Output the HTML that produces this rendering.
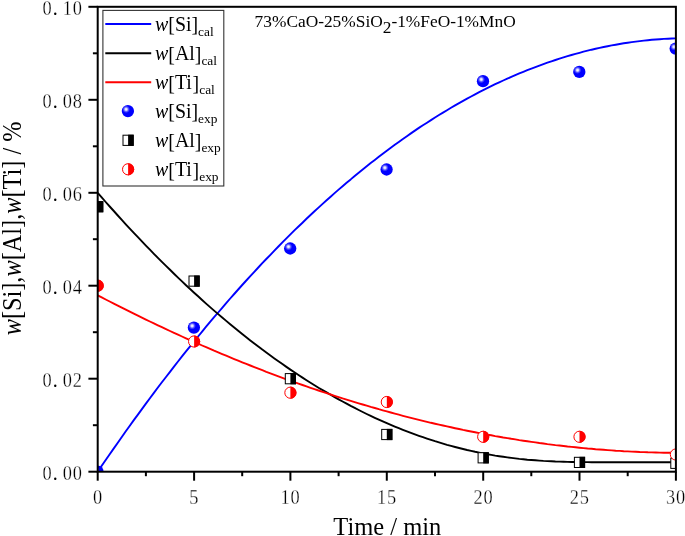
<!DOCTYPE html>
<html><head><meta charset="utf-8"><title>chart</title>
<style>
html,body{margin:0;padding:0;background:#fff;}
body{width:685px;height:536px;overflow:hidden;font-family:"Liberation Serif",serif;}
svg{display:block;will-change:transform;}
text{font-family:"Liberation Serif",serif;fill:#000;}
.tk{stroke:#fff;stroke-width:0.3px;}
</style></head><body>
<svg width="685" height="536" viewBox="0 0 685 536">
<defs>
<clipPath id="plot"><rect x="97.7" y="6.8" width="578.2" height="464.9"/></clipPath>
<radialGradient id="sph" cx="0.5" cy="0.5" r="0.5">
<stop offset="0" stop-color="#fff" stop-opacity="1"/><stop offset="0.28" stop-color="#fff" stop-opacity="0.85"/><stop offset="0.62" stop-color="#fff" stop-opacity="0.33"/><stop offset="1" stop-color="#fff" stop-opacity="0"/>
</radialGradient>
<g id="sq"><rect x="-5.1" y="-5.1" width="10.2" height="10.2" fill="#fff" stroke="#000" stroke-width="1"/><rect x="0" y="-5.6" width="5.6" height="11.2" fill="#000"/></g>
<g id="rc"><circle r="5.6" fill="#fff" stroke="#f00" stroke-width="1"/><path d="M0,-6.1 A6.1,6.1 0 0 1 0,6.1 Z" fill="#f00"/></g>
<g id="bs"><circle cx="-0.2" r="6.15" fill="#0000ff"/><circle cx="-1.95" cy="-1.78" r="3.8" fill="url(#sph)"/></g>
</defs>
<rect width="685" height="536" fill="#fff"/>

<g clip-path="url(#plot)" fill="none" stroke-width="1.9" stroke-linejoin="round">
<path d="M97.7,471.7 L101.7,465.8 L105.7,460.0 L109.7,454.2 L113.8,448.4 L117.8,442.7 L121.8,437.0 L125.8,431.3 L129.8,425.7 L133.8,420.1 L137.9,414.6 L141.9,409.1 L145.9,403.6 L149.9,398.2 L153.9,392.9 L157.9,387.5 L161.9,382.2 L166.0,377.0 L170.0,371.8 L174.0,366.6 L178.0,361.5 L182.0,356.4 L186.0,351.4 L190.1,346.4 L194.1,341.4 L198.1,336.5 L202.1,331.6 L206.1,326.7 L210.1,321.9 L214.1,317.2 L218.2,312.5 L222.2,307.8 L226.2,303.1 L230.2,298.5 L234.2,294.0 L238.2,289.5 L242.2,285.0 L246.3,280.5 L250.3,276.1 L254.3,271.8 L258.3,267.5 L262.3,263.2 L266.3,259.0 L270.4,254.8 L274.4,250.6 L278.4,246.5 L282.4,242.4 L286.4,238.4 L290.4,234.4 L294.4,230.4 L298.5,226.5 L302.5,222.7 L306.5,218.8 L310.5,215.0 L314.5,211.3 L318.5,207.6 L322.6,203.9 L326.6,200.3 L330.6,196.7 L334.6,193.1 L338.6,189.6 L342.6,186.2 L346.6,182.7 L350.7,179.4 L354.7,176.0 L358.7,172.7 L362.7,169.4 L366.7,166.2 L370.7,163.0 L374.8,159.9 L378.8,156.8 L382.8,153.7 L386.8,150.7 L390.8,147.7 L394.8,144.8 L398.8,141.9 L402.9,139.0 L406.9,136.2 L410.9,133.4 L414.9,130.6 L418.9,127.9 L422.9,125.3 L427.0,122.7 L431.0,120.1 L435.0,117.5 L439.0,115.0 L443.0,112.6 L447.0,110.2 L451.0,107.8 L455.1,105.4 L459.1,103.1 L463.1,100.9 L467.1,98.7 L471.1,96.5 L475.1,94.3 L479.2,92.2 L483.2,90.2 L487.2,88.2 L491.2,86.2 L495.2,84.2 L499.2,82.3 L503.2,80.5 L507.3,78.7 L511.3,76.9 L515.3,75.1 L519.3,73.4 L523.3,71.8 L527.3,70.2 L531.4,68.6 L535.4,67.1 L539.4,65.6 L543.4,64.1 L547.4,62.7 L551.4,61.3 L555.4,60.0 L559.5,58.7 L563.5,57.4 L567.5,56.2 L571.5,55.0 L575.5,53.9 L579.5,52.8 L583.5,51.7 L587.6,50.7 L591.6,49.7 L595.6,48.8 L599.6,47.9 L603.6,47.0 L607.6,46.2 L611.7,45.4 L615.7,44.7 L619.7,44.0 L623.7,43.3 L627.7,42.7 L631.7,42.1 L635.7,41.6 L639.8,41.1 L643.8,40.6 L647.8,40.2 L651.8,39.8 L655.8,39.5 L659.8,39.2 L663.9,38.9 L667.9,38.7 L671.9,38.5 L675.9,38.4" stroke="#0000ff"/>
<path d="M97.7,192.8 L101.7,197.4 L105.7,202.0 L109.7,206.5 L113.8,211.0 L117.8,215.5 L121.8,219.9 L125.8,224.3 L129.8,228.6 L133.8,232.9 L137.9,237.2 L141.9,241.4 L145.9,245.6 L149.9,249.7 L153.9,253.8 L157.9,257.9 L161.9,261.9 L166.0,265.9 L170.0,269.8 L174.0,273.7 L178.0,277.6 L182.0,281.4 L186.0,285.2 L190.1,289.0 L194.1,292.7 L198.1,296.3 L202.1,300.0 L206.1,303.6 L210.1,307.1 L214.1,310.6 L218.2,314.1 L222.2,317.5 L226.2,320.9 L230.2,324.2 L234.2,327.5 L238.2,330.8 L242.2,334.0 L246.3,337.2 L250.3,340.4 L254.3,343.5 L258.3,346.5 L262.3,349.6 L266.3,352.5 L270.4,355.5 L274.4,358.4 L278.4,361.2 L282.4,364.1 L286.4,366.9 L290.4,369.6 L294.4,372.3 L298.5,375.0 L302.5,377.6 L306.5,380.2 L310.5,382.7 L314.5,385.2 L318.5,387.7 L322.6,390.1 L326.6,392.4 L330.6,394.8 L334.6,397.1 L338.6,399.3 L342.6,401.5 L346.6,403.7 L350.7,405.9 L354.7,407.9 L358.7,410.0 L362.7,412.0 L366.7,414.0 L370.7,415.9 L374.8,417.8 L378.8,419.6 L382.8,421.4 L386.8,423.2 L390.8,424.9 L394.8,426.6 L398.8,428.2 L402.9,429.8 L406.9,431.4 L410.9,432.9 L414.9,434.4 L418.9,435.8 L422.9,437.2 L427.0,438.6 L431.0,439.9 L435.0,441.2 L439.0,442.4 L443.0,443.6 L447.0,444.8 L451.0,445.9 L455.1,447.0 L459.1,448.0 L463.1,449.0 L467.1,450.0 L471.1,450.9 L475.1,451.8 L479.2,452.6 L483.2,453.4 L487.2,454.2 L491.2,454.9 L495.2,455.6 L499.2,456.2 L503.2,456.8 L507.3,457.4 L511.3,457.9 L515.3,458.4 L519.3,458.9 L523.3,459.3 L527.3,459.7 L531.4,460.0 L535.4,460.3 L539.4,460.6 L543.4,460.9 L547.4,461.1 L551.4,461.3 L555.4,461.5 L559.5,461.6 L563.5,461.7 L567.5,461.9 L571.5,462.0 L575.5,462.0 L579.5,462.1 L583.5,462.1 L587.6,462.1 L591.6,462.2 L595.6,462.2 L599.6,462.2 L603.6,462.2 L607.6,462.2 L611.7,462.2 L615.7,462.2 L619.7,462.2 L623.7,462.2 L627.7,462.2 L631.7,462.2 L635.7,462.2 L639.8,462.2 L643.8,462.2 L647.8,462.2 L651.8,462.2 L655.8,462.2 L659.8,462.2 L663.9,462.2 L667.9,462.2 L671.9,462.2 L675.9,462.2" stroke="#000"/>
<path d="M97.7,295.3 L101.7,297.4 L105.7,299.5 L109.7,301.5 L113.8,303.6 L117.8,305.6 L121.8,307.7 L125.8,309.7 L129.8,311.7 L133.8,313.7 L137.9,315.7 L141.9,317.6 L145.9,319.6 L149.9,321.5 L153.9,323.4 L157.9,325.3 L161.9,327.2 L166.0,329.1 L170.0,331.0 L174.0,332.9 L178.0,334.7 L182.0,336.5 L186.0,338.3 L190.1,340.1 L194.1,341.9 L198.1,343.7 L202.1,345.5 L206.1,347.2 L210.1,348.9 L214.1,350.7 L218.2,352.4 L222.2,354.1 L226.2,355.7 L230.2,357.4 L234.2,359.1 L238.2,360.7 L242.2,362.3 L246.3,363.9 L250.3,365.5 L254.3,367.1 L258.3,368.7 L262.3,370.2 L266.3,371.8 L270.4,373.3 L274.4,374.8 L278.4,376.3 L282.4,377.8 L286.4,379.3 L290.4,380.7 L294.4,382.2 L298.5,383.6 L302.5,385.0 L306.5,386.4 L310.5,387.8 L314.5,389.2 L318.5,390.5 L322.6,391.9 L326.6,393.2 L330.6,394.5 L334.6,395.8 L338.6,397.1 L342.6,398.4 L346.6,399.6 L350.7,400.9 L354.7,402.1 L358.7,403.3 L362.7,404.5 L366.7,405.7 L370.7,406.9 L374.8,408.0 L378.8,409.2 L382.8,410.3 L386.8,411.4 L390.8,412.5 L394.8,413.6 L398.8,414.7 L402.9,415.8 L406.9,416.8 L410.9,417.8 L414.9,418.8 L418.9,419.8 L422.9,420.8 L427.0,421.8 L431.0,422.8 L435.0,423.7 L439.0,424.6 L443.0,425.5 L447.0,426.4 L451.0,427.3 L455.1,428.2 L459.1,429.0 L463.1,429.9 L467.1,430.7 L471.1,431.5 L475.1,432.3 L479.2,433.1 L483.2,433.8 L487.2,434.6 L491.2,435.3 L495.2,436.1 L499.2,436.8 L503.2,437.5 L507.3,438.1 L511.3,438.8 L515.3,439.4 L519.3,440.1 L523.3,440.7 L527.3,441.3 L531.4,441.9 L535.4,442.4 L539.4,443.0 L543.4,443.5 L547.4,444.1 L551.4,444.6 L555.4,445.1 L559.5,445.5 L563.5,446.0 L567.5,446.5 L571.5,446.9 L575.5,447.3 L579.5,447.7 L583.5,448.1 L587.6,448.5 L591.6,448.8 L595.6,449.2 L599.6,449.5 L603.6,449.8 L607.6,450.1 L611.7,450.4 L615.7,450.7 L619.7,450.9 L623.7,451.2 L627.7,451.4 L631.7,451.6 L635.7,451.8 L639.8,452.0 L643.8,452.1 L647.8,452.3 L651.8,452.4 L655.8,452.5 L659.8,452.6 L663.9,452.7 L667.9,452.7 L671.9,452.8 L675.9,452.8" stroke="#ff0000"/>
</g>
<g clip-path="url(#plot)">
<use href="#bs" x="97.7" y="471.7"/>
<use href="#bs" x="194.1" y="327.6"/>
<use href="#bs" x="290.4" y="248.5"/>
<use href="#bs" x="386.8" y="169.5"/>
<use href="#bs" x="483.2" y="81.2"/>
<use href="#bs" x="579.5" y="71.9"/>
<use href="#bs" x="675.9" y="48.6"/>
<use href="#sq" x="97.7" y="206.7"/>
<use href="#sq" x="194.1" y="281.1"/>
<use href="#sq" x="290.4" y="378.7"/>
<use href="#sq" x="386.8" y="434.5"/>
<use href="#sq" x="483.2" y="457.8"/>
<use href="#sq" x="579.5" y="462.4"/>
<use href="#sq" x="675.9" y="463.3"/>
<use href="#rc" x="97.7" y="285.7"/>
<use href="#rc" x="194.1" y="341.5"/>
<use href="#rc" x="290.4" y="392.7"/>
<use href="#rc" x="386.8" y="402.0"/>
<use href="#rc" x="483.2" y="436.8"/>
<use href="#rc" x="579.5" y="436.8"/>
<use href="#rc" x="675.9" y="454.5"/>
</g>
<g stroke="#000" stroke-width="2" fill="none" stroke-linecap="butt">
<rect x="97.7" y="6.8" width="578.2" height="464.9"/>
<line x1="88.4" y1="471.7" x2="97.7" y2="471.7"/>
<line x1="92.9" y1="425.2" x2="97.7" y2="425.2"/>
<line x1="88.4" y1="378.7" x2="97.7" y2="378.7"/>
<line x1="92.9" y1="332.2" x2="97.7" y2="332.2"/>
<line x1="88.4" y1="285.7" x2="97.7" y2="285.7"/>
<line x1="92.9" y1="239.2" x2="97.7" y2="239.2"/>
<line x1="88.4" y1="192.8" x2="97.7" y2="192.8"/>
<line x1="92.9" y1="146.3" x2="97.7" y2="146.3"/>
<line x1="88.4" y1="99.8" x2="97.7" y2="99.8"/>
<line x1="92.9" y1="53.3" x2="97.7" y2="53.3"/>
<line x1="88.4" y1="6.8" x2="97.7" y2="6.8"/>
<line x1="97.7" y1="471.7" x2="97.7" y2="480.7"/>
<line x1="145.9" y1="471.7" x2="145.9" y2="476.2"/>
<line x1="194.1" y1="471.7" x2="194.1" y2="480.7"/>
<line x1="242.2" y1="471.7" x2="242.2" y2="476.2"/>
<line x1="290.4" y1="471.7" x2="290.4" y2="480.7"/>
<line x1="338.6" y1="471.7" x2="338.6" y2="476.2"/>
<line x1="386.8" y1="471.7" x2="386.8" y2="480.7"/>
<line x1="435.0" y1="471.7" x2="435.0" y2="476.2"/>
<line x1="483.2" y1="471.7" x2="483.2" y2="480.7"/>
<line x1="531.3" y1="471.7" x2="531.3" y2="476.2"/>
<line x1="579.5" y1="471.7" x2="579.5" y2="480.7"/>
<line x1="627.7" y1="471.7" x2="627.7" y2="476.2"/>
<line x1="675.9" y1="471.7" x2="675.9" y2="480.7"/>
</g>
<text transform="translate(47.0,479.9) scale(0.92,1)" font-size="20" text-anchor="middle" class="tk">0</text>
<text x="55.2" y="479.9" font-size="20" text-anchor="middle">.</text>
<text transform="translate(67.3,479.9) scale(0.92,1)" font-size="20" text-anchor="middle" class="tk">0</text>
<text transform="translate(77.4,479.9) scale(0.92,1)" font-size="20" text-anchor="middle" class="tk">0</text>
<text transform="translate(47.0,386.9) scale(0.92,1)" font-size="20" text-anchor="middle" class="tk">0</text>
<text x="55.2" y="386.9" font-size="20" text-anchor="middle">.</text>
<text transform="translate(67.3,386.9) scale(0.92,1)" font-size="20" text-anchor="middle" class="tk">0</text>
<text transform="translate(77.4,386.9) scale(0.92,1)" font-size="20" text-anchor="middle" class="tk">2</text>
<text transform="translate(47.0,293.9) scale(0.92,1)" font-size="20" text-anchor="middle" class="tk">0</text>
<text x="55.2" y="293.9" font-size="20" text-anchor="middle">.</text>
<text transform="translate(67.3,293.9) scale(0.92,1)" font-size="20" text-anchor="middle" class="tk">0</text>
<text transform="translate(77.4,293.9) scale(0.92,1)" font-size="20" text-anchor="middle" class="tk">4</text>
<text transform="translate(47.0,201.0) scale(0.92,1)" font-size="20" text-anchor="middle" class="tk">0</text>
<text x="55.2" y="201.0" font-size="20" text-anchor="middle">.</text>
<text transform="translate(67.3,201.0) scale(0.92,1)" font-size="20" text-anchor="middle" class="tk">0</text>
<text transform="translate(77.4,201.0) scale(0.92,1)" font-size="20" text-anchor="middle" class="tk">6</text>
<text transform="translate(47.0,108.0) scale(0.92,1)" font-size="20" text-anchor="middle" class="tk">0</text>
<text x="55.2" y="108.0" font-size="20" text-anchor="middle">.</text>
<text transform="translate(67.3,108.0) scale(0.92,1)" font-size="20" text-anchor="middle" class="tk">0</text>
<text transform="translate(77.4,108.0) scale(0.92,1)" font-size="20" text-anchor="middle" class="tk">8</text>
<text transform="translate(47.0,15.0) scale(0.92,1)" font-size="20" text-anchor="middle" class="tk">0</text>
<text x="55.2" y="15.0" font-size="20" text-anchor="middle">.</text>
<text transform="translate(67.3,15.0) scale(0.92,1)" font-size="20" text-anchor="middle" class="tk">1</text>
<text transform="translate(77.4,15.0) scale(0.92,1)" font-size="20" text-anchor="middle" class="tk">0</text>
<text transform="translate(97.5,504.1) scale(0.92,1)" font-size="20" text-anchor="middle" class="tk">0</text>
<text transform="translate(193.9,504.1) scale(0.92,1)" font-size="20" text-anchor="middle" class="tk">5</text>
<text transform="translate(285.2,504.1) scale(0.92,1)" font-size="20" text-anchor="middle" class="tk">1</text>
<text transform="translate(295.2,504.1) scale(0.92,1)" font-size="20" text-anchor="middle" class="tk">0</text>
<text transform="translate(381.6,504.1) scale(0.92,1)" font-size="20" text-anchor="middle" class="tk">1</text>
<text transform="translate(391.6,504.1) scale(0.92,1)" font-size="20" text-anchor="middle" class="tk">5</text>
<text transform="translate(478.0,504.1) scale(0.92,1)" font-size="20" text-anchor="middle" class="tk">2</text>
<text transform="translate(488.0,504.1) scale(0.92,1)" font-size="20" text-anchor="middle" class="tk">0</text>
<text transform="translate(574.3,504.1) scale(0.92,1)" font-size="20" text-anchor="middle" class="tk">2</text>
<text transform="translate(584.3,504.1) scale(0.92,1)" font-size="20" text-anchor="middle" class="tk">5</text>
<text transform="translate(670.7,504.1) scale(0.92,1)" font-size="20" text-anchor="middle" class="tk">3</text>
<text transform="translate(680.7,504.1) scale(0.92,1)" font-size="20" text-anchor="middle" class="tk">0</text>
<text transform="translate(387.3,535.3) scale(1.021,1.06)" font-size="24" text-anchor="middle">Time / min</text>
<text transform="translate(21.2,228.4) rotate(-90) scale(1.013,1.10)" font-size="24" text-anchor="middle"><tspan font-style="italic">w</tspan>[Si],<tspan font-style="italic">w</tspan>[Al],<tspan font-style="italic">w</tspan>[Ti] / %</text>
<text x="254.6" y="27.3" font-size="17.35">73%CaO-25%SiO<tspan dy="5.8">2</tspan><tspan dy="-5.8">-1%FeO-1%MnO</tspan></text>
<rect x="102.9" y="10.4" width="120.9" height="175.6" fill="#fff" stroke="#333" stroke-width="1.1"/>
<line x1="105.3" y1="24.0" x2="151.2" y2="24.0" stroke="#0000ff" stroke-width="2"/>
<line x1="105.3" y1="53.2" x2="151.2" y2="53.2" stroke="#000" stroke-width="2"/>
<line x1="105.3" y1="82.3" x2="151.2" y2="82.3" stroke="#ff0000" stroke-width="2"/>
<use href="#bs" x="128.1" y="111.1"/>
<use href="#sq" x="128.1" y="140.3"/>
<use href="#rc" x="128.1" y="169.3"/>
<text x="155.00" y="30.5" font-size="19.9" font-style="italic">w</text>
<text transform="translate(168.27,31.35) scale(1,1.074)" font-size="19.9">[</text>
<text x="174.90" y="30.5" font-size="19.9">Si</text>
<text transform="translate(191.50,31.35) scale(1,1.074)" font-size="19.9">]</text>
<text x="198.12" y="36.1" font-size="13.4">cal</text>
<text x="155.00" y="59.7" font-size="19.9" font-style="italic">w</text>
<text transform="translate(168.27,60.55) scale(1,1.074)" font-size="19.9">[</text>
<text x="174.90" y="59.7" font-size="19.9">Al</text>
<text transform="translate(194.80,60.55) scale(1,1.074)" font-size="19.9">]</text>
<text x="201.43" y="65.3" font-size="13.4">cal</text>
<text x="155.00" y="88.8" font-size="19.9" font-style="italic">w</text>
<text transform="translate(168.27,89.65) scale(1,1.074)" font-size="19.9">[</text>
<text x="174.90" y="88.8" font-size="19.9">Ti</text>
<text transform="translate(192.59,89.65) scale(1,1.074)" font-size="19.9">]</text>
<text x="199.22" y="94.4" font-size="13.4">cal</text>
<text x="155.00" y="117.6" font-size="19.9" font-style="italic">w</text>
<text transform="translate(168.27,118.45) scale(1,1.074)" font-size="19.9">[</text>
<text x="174.90" y="117.6" font-size="19.9">Si</text>
<text transform="translate(191.50,118.45) scale(1,1.074)" font-size="19.9">]</text>
<text x="198.12" y="123.2" font-size="13.4">exp</text>
<text x="155.00" y="146.8" font-size="19.9" font-style="italic">w</text>
<text transform="translate(168.27,147.65) scale(1,1.074)" font-size="19.9">[</text>
<text x="174.90" y="146.8" font-size="19.9">Al</text>
<text transform="translate(194.80,147.65) scale(1,1.074)" font-size="19.9">]</text>
<text x="201.43" y="152.4" font-size="13.4">exp</text>
<text x="155.00" y="175.8" font-size="19.9" font-style="italic">w</text>
<text transform="translate(168.27,176.65) scale(1,1.074)" font-size="19.9">[</text>
<text x="174.90" y="175.8" font-size="19.9">Ti</text>
<text transform="translate(192.59,176.65) scale(1,1.074)" font-size="19.9">]</text>
<text x="199.22" y="181.4" font-size="13.4">exp</text>
</svg></body></html>
